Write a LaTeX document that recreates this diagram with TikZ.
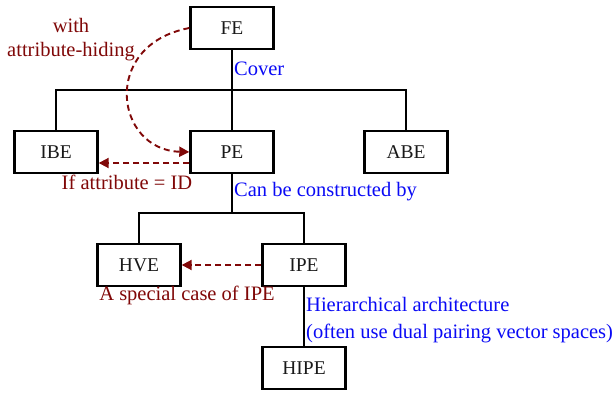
\documentclass[tikz,border=0pt]{standalone}
\usepackage{fontspec}
\setmainfont{Liberation Serif}
\usetikzlibrary{arrows.meta,calc}
\definecolor{annred}{RGB}{128,8,8}
\definecolor{annblue}{RGB}{10,10,245}
\definecolor{boxtext}{RGB}{25,25,25}
\tikzset{
  schemebox/.style={draw=black, line width=2.4pt, minimum width=83pt, minimum height=42pt,
    inner sep=0pt, text=boxtext, font=\fontsize{19.5}{22}\selectfont},
  tree/.style={draw=black, line width=1.8pt},
  dasharrow/.style={draw=annred, line width=1.9pt, dash pattern=on 6pt off 4pt,
    -{Triangle[length=10pt,width=10pt,fill=annred]}},
  bluenote/.style={text=annblue, anchor=west, inner sep=0pt, font=\fontsize{20.5}{27}\selectfont},
  rednote/.style={text=annred, inner sep=0pt, font=\fontsize{20.5}{24}\selectfont},
}
\begin{document}
\begin{tikzpicture}[x=1pt, y=-1pt]
\useasboundingbox (0,0) rectangle (616,393);

% scheme boxes
\node[schemebox] (FE)   at (232,28)  {FE};
\node[schemebox] (IBE)  at (56,152)  {IBE};
\node[schemebox] (PE)   at (232,152) {PE};
\node[schemebox] (ABE)  at (406,152) {ABE};
\node[schemebox] (HVE)  at (139,265) {HVE};
\node[schemebox] (IPE)  at (304,265) {IPE};
\node[schemebox] (HIPE) at (304,368) {HIPE};

% branching points of the tree
\coordinate (bus1) at (232,90);
\coordinate (bus2) at (232,213);

% tree connectors
\draw[tree] (FE.south) -- (PE.north);
\draw[tree] (IBE.north) |- (bus1) -| (ABE.north);
\draw[tree] (PE.south) -- (bus2);
\draw[tree] (HVE.north) |- (bus2) -| (IPE.north);
\draw[tree] (IPE.south) -- (HIPE.north);

% special-case relations
\draw[dasharrow] (FE.west) .. controls (100,45) and (115,150) .. (PE.west);
\draw[dasharrow] ([yshift=-11pt]PE.west) -- ([yshift=-11pt]IBE.east);
\draw[dasharrow] (IPE.west) -- (HVE.east);

% annotations
\node[bluenote] (cover) at (234,69) {Cover};
\node[bluenote] (constr) at (234,192) {Can be constructed by};
\node[bluenote, align=left] (hier) at (306,320)
  {Hierarchical architecture\\(often use dual pairing vector spaces)};
\node[rednote, align=center] (hide) at (71,40) {with\\attribute-hiding};
\node[rednote] (ifid) at (127,182) {If attribute = ID};
\node[rednote] (spec) at (187,295) {A special case of IPE};
\end{tikzpicture}
\end{document}
